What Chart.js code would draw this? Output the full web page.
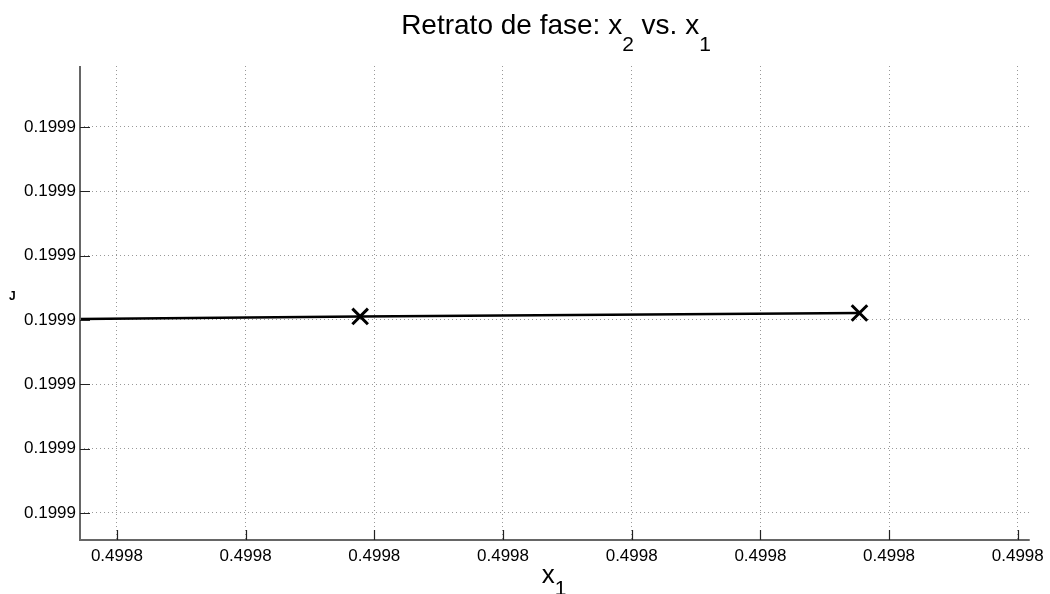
<!DOCTYPE html>
<html>
<head>
<meta charset="utf-8">
<script src="https://cdn.jsdelivr.net/npm/chart.js@4"></script>
<style>
  html, body { margin: 0; padding: 0; background: #fff; }
  #wrap { width: 1050px; height: 594px; }
</style>
</head>
<body>
<div id="wrap"><canvas id="fase"></canvas></div>
<script>
// trajectory samples (x1, x2)
const x1Values = [0.4997990, 0.49980189, 0.49980577];
const x2Values = [0.1999003000, 0.1999003055, 0.1999003109];
const showMarker = [false, true, true];

// tick positions and axis limits
const xTicks = [0.499800, 0.499801, 0.499802, 0.499803, 0.499804, 0.499805, 0.499806, 0.499807];
const yTicks = [0.1999000, 0.1999001, 0.1999002, 0.1999003, 0.1999004, 0.1999005, 0.1999006];
const xLimits = [0.4997997132, 0.4998070930];
const yLimits = [0.1998999580, 0.1999006948];

const points = x1Values.map((x, i) => ({ x: x, y: x2Values[i] }));
const font = "'Liberation Sans', Arial, Helvetica, sans-serif";

// writes a run of text pieces centred on x; each piece is [text, size, dy]
function subText(ctx, parts, x, y) {
  let total = 0;
  parts.forEach(p => { ctx.font = p[1] + 'px ' + font; total += ctx.measureText(p[0]).width; });
  let cx = x - total / 2;
  parts.forEach(p => {
    ctx.font = p[1] + 'px ' + font;
    ctx.fillText(p[0], cx, y + p[2]);
    cx += ctx.measureText(p[0]).width;
  });
}

const decorations = {
  id: 'decorations',
  afterDraw(chart) {
    const ctx = chart.ctx;
    const area = chart.chartArea;
    const xs = chart.scales.x, ys = chart.scales.y;
    ctx.save();
    // axis lines, left and bottom only
    ctx.strokeStyle = '#666';
    ctx.lineWidth = 2;
    ctx.beginPath();
    ctx.moveTo(area.left, area.top);
    ctx.lineTo(area.left, area.bottom);
    ctx.lineTo(area.right, area.bottom);
    ctx.stroke();
    // inward tick marks
    ctx.strokeStyle = '#222';
    ctx.lineWidth = 1.2;
    ctx.beginPath();
    xTicks.forEach(v => {
      const px = Math.round(xs.getPixelForValue(v)) + 0.5;
      ctx.moveTo(px, area.bottom);
      ctx.lineTo(px, area.bottom - 10);
    });
    yTicks.forEach(v => {
      const py = Math.round(ys.getPixelForValue(v)) + 0.5;
      ctx.moveTo(area.left, py);
      ctx.lineTo(area.left + 10, py);
    });
    ctx.stroke();
    // title and axis label
    ctx.fillStyle = '#000';
    ctx.textBaseline = 'alphabetic';
    ctx.textAlign = 'left';
    subText(ctx, [['Retrato de fase: x', 28, 0], ['2', 21, 17], [' vs. x', 28, 0], ['1', 21, 17]], 556, 34);
    subText(ctx, [['x', 26, 0], ['1', 21, 12]], 554, 583);
    // clipped y label remnant
    ctx.font = 'bold 12px ' + font;
    ctx.fillText('J', 9, 300);
    ctx.restore();
  }
};

const config = {
  type: 'scatter',
  data: {
    datasets: [{
      data: points,
      showLine: true,
      borderColor: '#000',
      borderWidth: 2.5,
      pointStyle: 'crossRot',
      pointRadius: showMarker.map(m => m ? 11 : 0),
      pointBorderWidth: 3,
      pointBorderColor: '#000',
      pointHoverRadius: 0
    }]
  },
  options: {
    responsive: false,
    animation: false,
    layout: { padding: { top: 66, right: 18, left: 0, bottom: 0 } },
    plugins: {
      legend: { display: false },
      tooltip: { enabled: false }
    },
    scales: {
      x: {
        type: 'linear',
        min: xLimits[0], max: xLimits[1],
        afterBuildTicks: s => { s.ticks = xTicks.map(v => ({ value: v })); },
        afterFit: s => { s.height = 54; },
        border: { display: false, dash: [1, 3] },
        grid: { color: '#999', lineWidth: 1, drawTicks: false },
        ticks: {
          padding: 6,
          color: '#000',
          font: { family: font, size: 17 },
          maxRotation: 0,
          callback: v => v.toFixed(4)
        }
      },
      y: {
        type: 'linear',
        min: yLimits[0], max: yLimits[1],
        afterBuildTicks: s => { s.ticks = yTicks.map(v => ({ value: v })); },
        afterFit: s => { s.width = 80; },
        border: { display: false, dash: [1, 3] },
        grid: { color: '#999', lineWidth: 1, drawTicks: false },
        ticks: {
          padding: 4,
          color: '#000',
          font: { family: font, size: 17 },
          callback: v => v.toFixed(4)
        }
      }
    }
  },
  plugins: [decorations]
};

const canvas = document.getElementById('fase');
canvas.width = 1050;
canvas.height = 594;
new Chart(canvas, config);
</script>
</body>
</html>
